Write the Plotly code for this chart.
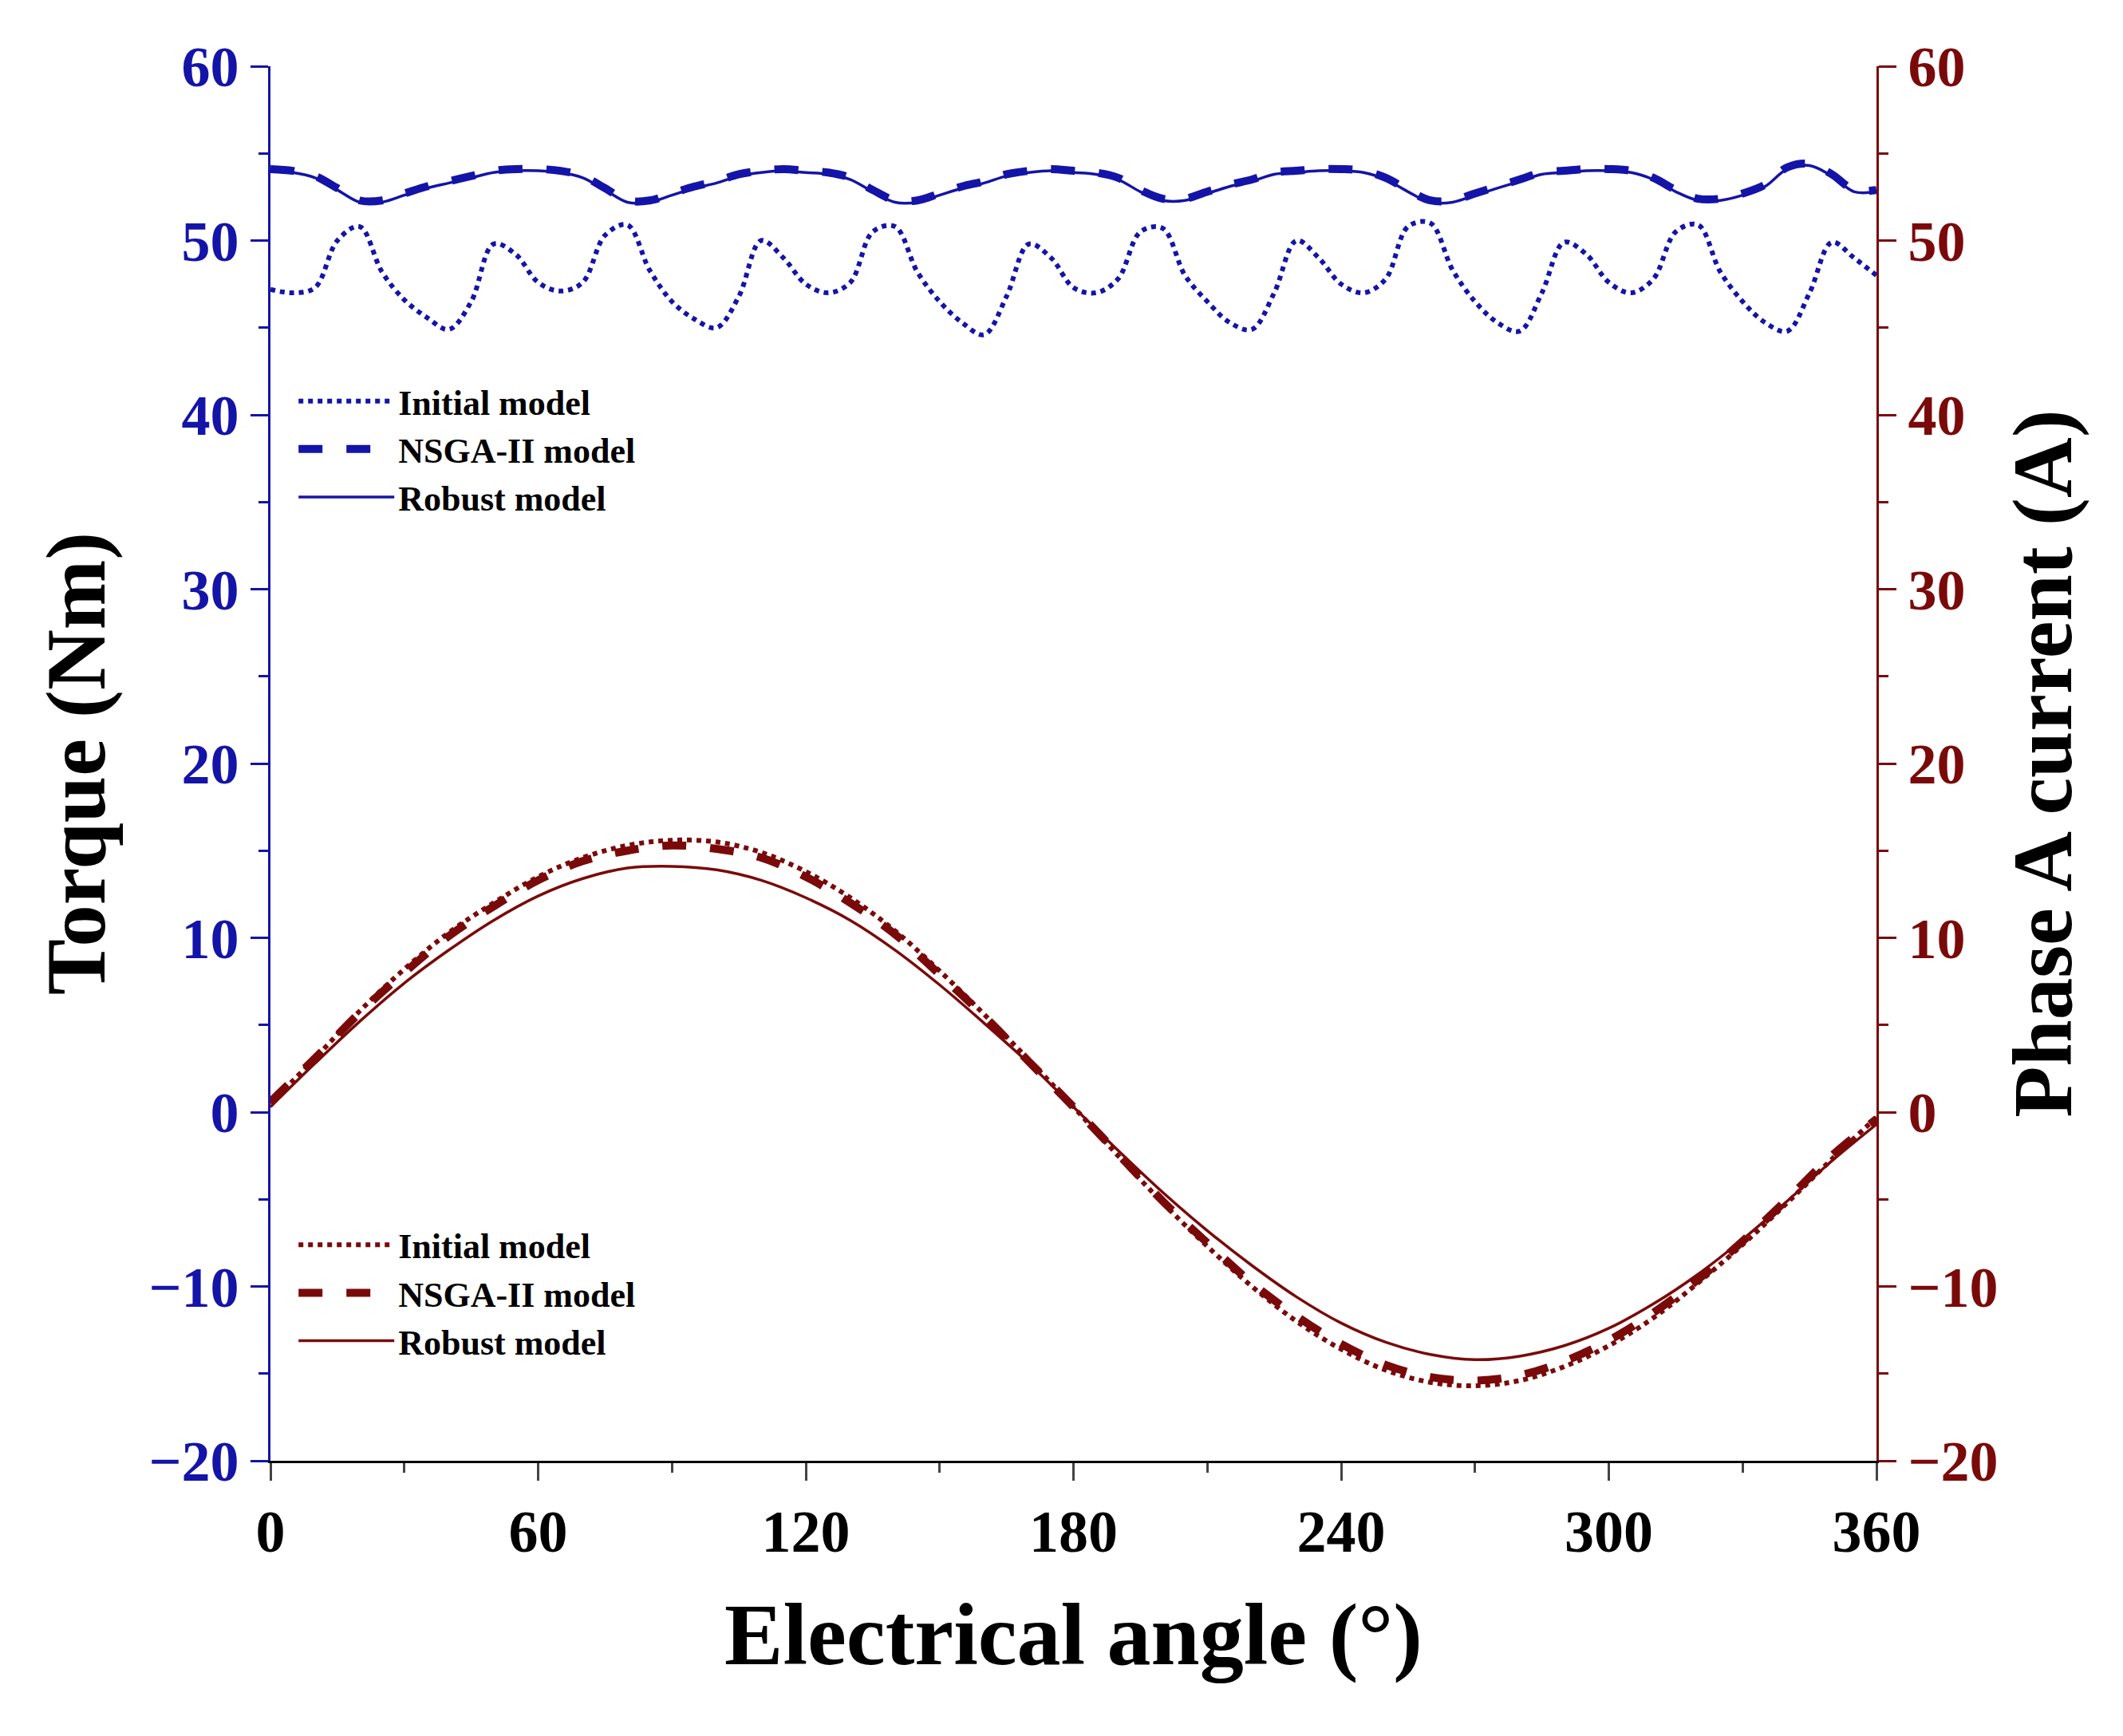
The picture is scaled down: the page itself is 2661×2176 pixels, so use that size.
import plotly.graph_objects as go

# torque, 5 degree steps
angle_t = list(range(0, 361, 5))
torque_initial = [47.2, 47.0, 47.3, 50.0, 50.8, 48.2, 46.6, 45.6, 44.9, 46.5, 49.8, 49.2,
                  47.6, 47.1, 47.6, 50.3, 50.9, 48.3, 46.5, 45.5, 45.0, 46.8, 50.0, 49.0,
                  47.5, 47.0, 47.6, 50.5, 50.8, 48.2, 46.5, 45.3, 44.6, 46.8, 49.8, 49.0,
                  47.3, 47.0, 47.8, 50.5, 50.7, 48.0, 46.5, 45.3, 44.9, 47.0, 50.0, 49.0,
                  47.5, 47.0, 47.8, 50.8, 51.0, 48.3, 46.5, 45.3, 44.8, 47.0, 49.9, 49.2,
                  47.6, 47.0, 47.8, 50.5, 50.9, 48.2, 46.5, 45.3, 44.8, 47.0, 49.9, 49.0, 48.0]
torque_nsga = [54.1, 54.0, 53.7, 53.0, 52.3, 52.3, 52.7, 53.1, 53.4, 53.7, 54.0, 54.1,
               54.1, 54.0, 53.7, 53.0, 52.3, 52.3, 52.7, 53.1, 53.4, 53.8, 54.0, 54.1,
               54.0, 53.9, 53.6, 52.9, 52.3, 52.3, 52.7, 53.1, 53.4, 53.8, 54.0, 54.1,
               54.0, 53.9, 53.6, 52.9, 52.4, 52.4, 52.8, 53.2, 53.5, 53.9, 54.0, 54.1,
               54.1, 54.0, 53.6, 52.9, 52.3, 52.3, 52.7, 53.1, 53.5, 53.9, 54.0, 54.1,
               54.1, 54.0, 53.6, 52.9, 52.4, 52.4, 52.7, 53.2, 54.2, 54.4, 53.8, 52.9, 52.9]
torque_robust = [54.0, 53.9, 53.6, 52.9, 52.2, 52.2, 52.6, 53.0, 53.3, 53.6, 53.9, 54.0,
                 54.0, 53.9, 53.6, 52.9, 52.2, 52.2, 52.6, 53.0, 53.3, 53.7, 53.9, 54.0,
                 53.9, 53.8, 53.5, 52.8, 52.2, 52.2, 52.6, 53.0, 53.3, 53.7, 53.9, 54.0,
                 53.9, 53.8, 53.5, 52.8, 52.3, 52.3, 52.7, 53.1, 53.4, 53.8, 53.9, 54.0,
                 54.0, 53.9, 53.5, 52.8, 52.2, 52.2, 52.6, 53.0, 53.4, 53.8, 53.9, 54.0,
                 54.0, 53.9, 53.5, 52.8, 52.3, 52.3, 52.6, 53.1, 54.1, 54.3, 53.7, 52.8, 52.8]

# phase A current, 10 degree steps
angle_c = list(range(0, 361, 10))
current_initial = [0.5, 3.1, 5.8, 8.2, 10.3, 12.0, 13.5, 14.6, 15.3, 15.6, 15.5, 14.9, 13.8,
                   12.3, 10.4, 8.1, 5.6, 3.0, 0.3, -2.5, -5.2, -7.7, -10.0, -12.0, -13.6,
                   -14.8, -15.5, -15.7, -15.4, -14.6, -13.4, -11.8, -9.8, -7.6, -5.2, -2.7, -0.3]
current_nsga = [0.6, 3.1, 5.7, 8.0, 10.1, 11.8, 13.3, 14.4, 15.0, 15.3, 15.1, 14.6, 13.5,
                12.0, 10.2, 7.9, 5.5, 2.9, 0.3, -2.4, -5.1, -7.5, -9.8, -11.7, -13.3,
                -14.5, -15.2, -15.4, -15.1, -14.3, -13.1, -11.5, -9.6, -7.4, -5.0, -2.5, -0.4]
current_robust = [0.3, 2.8, 5.2, 7.4, 9.3, 11.0, 12.4, 13.4, 14.0, 14.1, 13.9, 13.3, 12.3,
                  11.0, 9.3, 7.3, 5.1, 2.8, 0.3, -2.2, -4.6, -6.8, -8.8, -10.6, -12.1,
                  -13.2, -13.9, -14.2, -14.0, -13.4, -12.4, -11.0, -9.3, -7.3, -5.1, -2.8, -0.7]

BLUE = "#1414a8"
RED = "#7a0a0a"
FONT = "Liberation Serif"

fig = go.Figure()
for name, y, dash, w in [("Initial model", torque_initial, "dot", 6),
                         ("NSGA-II model", torque_nsga, "dash", 10),
                         ("Robust model", torque_robust, "solid", 3.5)]:
    fig.add_trace(go.Scatter(x=angle_t, y=y, name=name, mode="lines", line_shape="spline",
                             line=dict(color=BLUE, dash=dash, width=w), legend="legend"))
for name, y, dash, w in [("Initial model", current_initial, "dot", 6),
                         ("NSGA-II model", current_nsga, "dash", 10),
                         ("Robust model", current_robust, "solid", 3.5)]:
    fig.add_trace(go.Scatter(x=angle_c, y=y, name=name, mode="lines", line_shape="spline",
                             line=dict(color=RED, dash=dash, width=w), yaxis="y2",
                             legend="legend2"))

leg = dict(font=dict(family=FONT, size=44, color="black", weight="bold"),
           bgcolor="rgba(0,0,0,0)", xanchor="left", yanchor="top", tracegroupgap=0,
           itemwidth=120)

fig.update_layout(
    width=2661, height=2176,
    margin=dict(l=331, r=317, t=75, b=353),
    plot_bgcolor="white", paper_bgcolor="white",
    font=dict(family=FONT),
    xaxis=dict(range=[0, 360], tickvals=[0, 60, 120, 180, 240, 300, 360],
               ticks="outside", ticklen=22, tickwidth=3, linecolor="black", linewidth=3,
               minor=dict(dtick=30, ticks="outside", ticklen=12, tickwidth=3),
               showgrid=False, zeroline=False,
               tickfont=dict(family=FONT, size=74, color="black", weight="bold"),
               title=dict(text="Electrical angle (°)", standoff=50,
                          font=dict(family=FONT, size=110, color="black", weight="bold"))),
    yaxis=dict(range=[-20, 60], dtick=10, ticks="outside", ticklen=22, tickwidth=3,
               linecolor=BLUE, linewidth=3, tickcolor=BLUE, showgrid=False, zeroline=False,
               minor=dict(dtick=5, ticks="outside", ticklen=12, tickwidth=3, tickcolor=BLUE),
               tickfont=dict(family=FONT, size=72, color=BLUE, weight="bold"),
               title=dict(text="Torque (Nm)", standoff=20,
                          font=dict(family=FONT, size=105, color="black", weight="bold"))),
    yaxis2=dict(range=[-20, 60], dtick=10, ticks="outside", ticklen=22, tickwidth=3,
                overlaying="y", side="right", anchor="x",
                linecolor=RED, linewidth=3, tickcolor=RED, showgrid=False, zeroline=False,
                showline=True,
                minor=dict(dtick=5, ticks="outside", ticklen=12, tickwidth=3, tickcolor=RED),
                tickfont=dict(family=FONT, size=72, color=RED, weight="bold"),
                title=dict(text="Phase A current (A)", standoff=20,
                           font=dict(family=FONT, size=105, color="black", weight="bold"))),
    legend=dict(x=0.015, y=0.78, **leg),
    legend2=dict(x=0.015, y=0.175, **leg),
)

fig.write_html("out.html")
